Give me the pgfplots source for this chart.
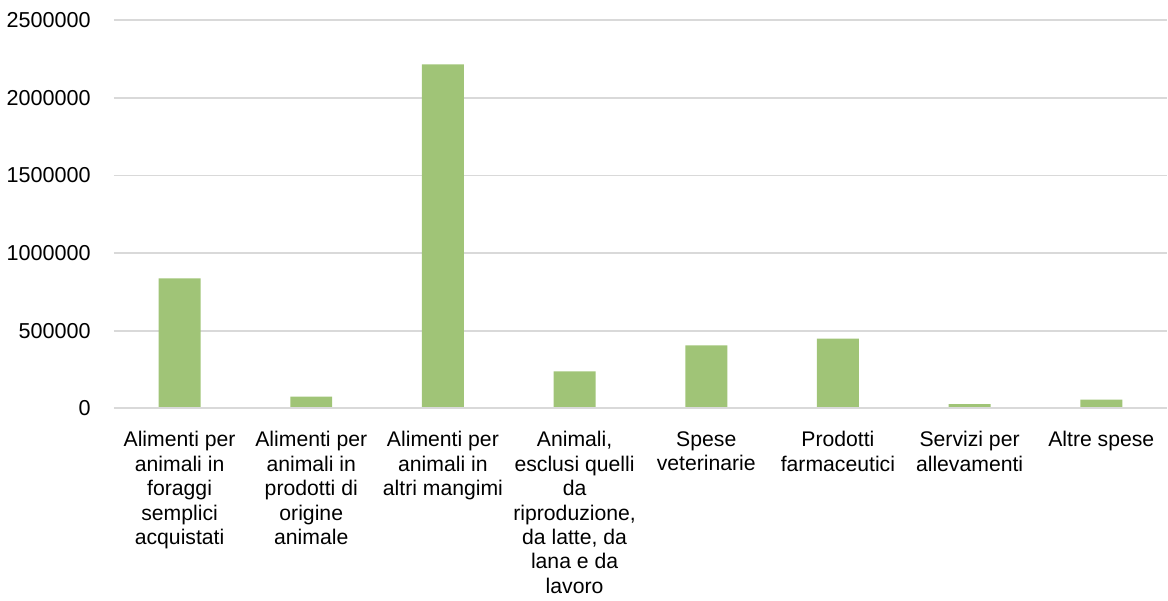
\documentclass[border=0pt]{standalone}
\usepackage{pgfplots}
\pgfplotsset{compat=1.18}
\usepackage{fontspec}
\setmainfont{Liberation Sans}
\definecolor{bargreen}{HTML}{A0C477}
\definecolor{gridgray}{HTML}{D9D9D9}
\begin{document}
\begin{tikzpicture}
\begin{axis}[
  name=main,
  scale only axis,
  width=527pt, height=194.4pt,
  ybar, bar width=21pt,
  xmin=-0.5, xmax=7.5,
  ymin=0, ymax=2500000,
  ytick={0,500000,1000000,1500000,2000000,2500000},
  scaled y ticks=false,
  /pgf/number format/fixed,
  /pgf/number format/set thousands separator={},
  /pgf/number format/assume math mode=true,
  xtick={0,...,7},
  xticklabels={
    {Alimenti per\\animali in\\foraggi\\semplici\\acquistati},
    {Alimenti per\\animali in\\prodotti di\\origine\\animale},
    {Alimenti per\\animali in\\altri mangimi},
    {Animali,\\esclusi quelli\\da\\riproduzione,\\da latte, da\\lana e da\\lavoro},
    {Spese\\veterinarie},
    {Prodotti\\farmaceutici},
    {Servizi per\\allevamenti},
    {Altre spese}
  },
  major tick length=0pt,
  xticklabel style={font=\fontsize{10.6}{12.2}\selectfont, align=center, anchor=north, yshift=-8pt},
  yticklabel style={font=\fontsize{10.8}{12}\selectfont, anchor=east, xshift=-8pt},
  axis line style={draw=none},
  ymajorgrids,
  grid style={draw=gridgray, line width=0.9pt},
]
\addplot[fill=bargreen, draw=none] coordinates {
  (0, 837000)
  (1, 77000)
  (2, 2214000)
  (3, 240000)
  (4, 407000)
  (5, 450000)
  (6, 28000)
  (7, 58000)
};
\draw[gridgray, line width=1.2pt] (axis cs:-0.5,0) -- (axis cs:7.5,0);
\end{axis}
\path ([yshift=10pt]main.north west) -- ([yshift=10pt]main.north east);
\end{tikzpicture}
\end{document}
